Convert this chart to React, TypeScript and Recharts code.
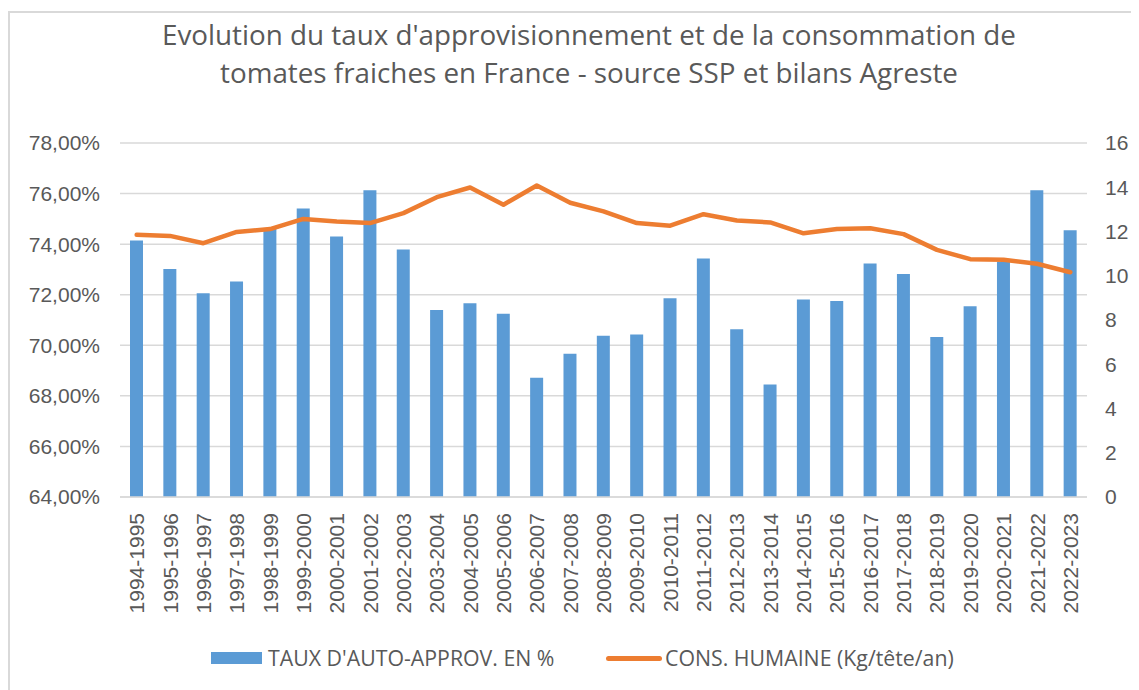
import React from 'react'
import { Bar, CartesianGrid, ComposedChart, Line, XAxis, YAxis } from 'recharts'

const campagnes = [
  '1994-1995', '1995-1996', '1996-1997', '1997-1998', '1998-1999', '1999-2000',
  '2000-2001', '2001-2002', '2002-2003', '2003-2004', '2004-2005', '2005-2006',
  '2006-2007', '2007-2008', '2008-2009', '2009-2010', '2010-2011', '2011-2012',
  '2012-2013', '2013-2014', '2014-2015', '2015-2016', '2016-2017', '2017-2018',
  '2018-2019', '2019-2020', '2020-2021', '2021-2022', '2022-2023',
]

// taux d'auto-approvisionnement, en %
const tauxAutoApprov = [
  74.14, 73.02, 72.06, 72.52, 74.6, 75.41, 74.3, 76.13, 73.79, 71.4,
  71.66, 71.25, 68.72, 69.67, 70.38, 70.43, 71.86, 73.43, 70.63, 68.45,
  71.81, 71.75, 73.23, 72.82, 70.33, 71.54, 73.3, 76.13, 74.55,
]

// consommation humaine, kg/tête/an
const consHumaine = [
  11.85, 11.8, 11.47, 11.98, 12.11, 12.57, 12.45, 12.38, 12.83, 13.55,
  13.99, 13.21, 14.08, 13.3, 12.91, 12.38, 12.26, 12.78, 12.5, 12.41,
  11.92, 12.11, 12.15, 11.88, 11.17, 10.75, 10.72, 10.54, 10.16,
]

const leftTicks = [64, 66, 68, 70, 72, 74, 76, 78]
const rightTicks = [0, 2, 4, 6, 8, 10, 12, 14, 16]

const titre = [
  "Evolution du taux d'approvisionnement et de la consommation de",
  'tomates fraiches en France - source SSP et bilans Agreste',
]

const BLUE = '#5B9BD5'
const ORANGE = '#ED7D31'
const GREY = '#595959'
const GRID = '#d9d9d9'
const FONT = '"Liberation Sans", Arial, sans-serif'
const TEXT_FONT = '"Open Sans", "Liberation Sans", sans-serif'

const data = campagnes.map((c, i) => ({
  campagne: c,
  taux: tauxAutoApprov[i],
  cons: consHumaine[i],
}))

const pct = (v: number) => v.toFixed(2).replace('.', ',') + '%'

function CampagneTick(props: any) {
  const { x, y, payload } = props
  const ty = y + 8
  return (
    <text
      x={x}
      y={ty}
      transform={`rotate(-90, ${x}, ${ty})`}
      textAnchor="end"
      dy="0.36em"
      fill={GREY}
      fontSize={21}
      fontFamily={FONT}
    >
      {payload.value}
    </text>
  )
}

export default function App() {
  return (
    <div style={{ position: 'relative', width: 1131, height: 682, overflow: 'hidden', fontFamily: TEXT_FONT }}>
      <div
        style={{
          position: 'absolute', left: 0, top: 3, width: 1300, height: 900,
          border: `2px solid ${GRID}`, boxSizing: 'border-box',
        }}
      />
      {titre.map((t, i) => (
        <div
          key={i}
          style={{
            position: 'absolute', left: 581 - 600, width: 1200, top: 8 + i * 38,
            textAlign: 'center', fontSize: 27.8, color: GREY, lineHeight: '36px', whiteSpace: 'nowrap',
          }}
        >
          {t}
        </div>
      ))}
      <div style={{ position: 'absolute', left: 0, top: 0 }}>
        <ComposedChart
          width={1131}
          height={682}
          data={data}
          margin={{ top: 135, right: 0, bottom: 193 - 130, left: 0 }}
          barCategoryGap={0}
        >
          <CartesianGrid yAxisId="left" vertical={false} stroke={GRID} strokeWidth={1.5} />
          <XAxis
            dataKey="campagne"
            interval={0}
            height={130}
            tickLine={false}
            axisLine={{ stroke: GRID, strokeWidth: 1.5 }}
            tick={<CampagneTick />}
          />
          <YAxis
            yAxisId="left"
            domain={[64, 78]}
            ticks={leftTicks}
            tickFormatter={pct}
            width={112}
            axisLine={false}
            tickLine={false}
            tickMargin={14}
            tick={{ fill: GREY, fontSize: 21, fontFamily: FONT }}
          />
          <YAxis
            yAxisId="right"
            orientation="right"
            domain={[0, 16]}
            ticks={rightTicks}
            width={52}
            axisLine={false}
            tickLine={false}
            tickMargin={12}
            tick={{ fill: GREY, fontSize: 21, fontFamily: FONT }}
          />
          <Bar yAxisId="left" dataKey="taux" fill={BLUE} barSize={13} isAnimationActive={false} />
          <Line
            yAxisId="right"
            dataKey="cons"
            type="linear"
            stroke={ORANGE}
            strokeWidth={4.5}
            strokeLinecap="round"
            strokeLinejoin="round"
            dot={false}
            activeDot={false}
            isAnimationActive={false}
          />
        </ComposedChart>
      </div>
      <div
        style={{
          position: 'absolute', top: 638, left: 0, width: 1131, height: 24,
          fontSize: 21.3, color: GREY, whiteSpace: 'nowrap',
        }}
      >
        <span style={{ position: 'absolute', left: 203, top: 6, width: 51, height: 12, background: BLUE }} />
        <span style={{ position: 'absolute', left: 260, top: 0, lineHeight: '24px' }}>TAUX D'AUTO-APPROV. EN %</span>
        <span style={{ position: 'absolute', left: 598, top: 10, width: 56, height: 5, borderRadius: 3, background: ORANGE }} />
        <span style={{ position: 'absolute', left: 657, top: 0, lineHeight: '24px' }}>CONS. HUMAINE (Kg/tête/an)</span>
      </div>
    </div>
  )
}
